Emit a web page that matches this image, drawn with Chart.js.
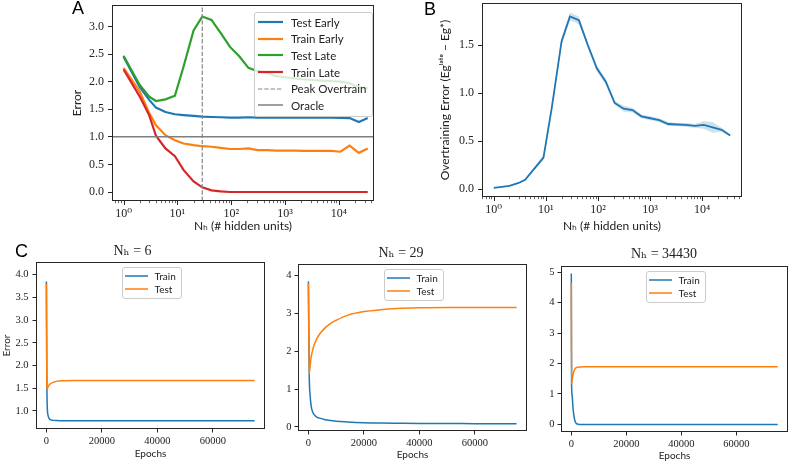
<!DOCTYPE html>
<html>
<head>
<meta charset="utf-8">
<script src="https://cdn.jsdelivr.net/npm/chart.js@4.4.0/dist/chart.umd.min.js"></script>
<style>
  html, body { margin: 0; padding: 0; background: #fff; }
  #fig { position: relative; width: 792px; height: 464px; overflow: hidden; }
  #fig canvas { position: absolute; }
  .panel-letter { position: absolute; font: 18px "Liberation Sans", Arial, sans-serif; line-height: 1; color: #000; }
  .legend { position: absolute; box-sizing: border-box; background: rgba(255,255,255,0.8);
            border: 1px solid #cccccc; border-radius: 3px; color: #222; font-family: Lato, "DejaVu Sans", sans-serif; }
  .legend .row { display: flex; align-items: center; white-space: nowrap; }
  .legend svg { flex: none; display: block; }
</style>
</head>
<body>
<div id="fig">
  <canvas id="panelA"></canvas>
  <canvas id="panelB"></canvas>
  <canvas id="panelC1"></canvas>
  <canvas id="panelC2"></canvas>
  <canvas id="panelC3"></canvas>
  <div class="panel-letter" style="left:72px; top:-1px;">A</div>
  <div class="panel-letter" style="left:424px; top:0px;">B</div>
  <div class="panel-letter" style="left:15px; top:242px;">C</div>
</div>
<script>
// ---- data: hidden-unit sweep (panels A and B) ----
const hiddenUnits = [1, 2, 3, 4, 6, 9, 13, 20, 29, 43, 64, 95, 141, 209, 310, 460, 681, 1010, 1497, 2219, 3289, 4875, 7225, 10708, 15870, 23520, 34430];
const testEarly  = [2.45, 1.90, 1.67, 1.53, 1.45, 1.41, 1.395, 1.38, 1.365, 1.36, 1.355, 1.35, 1.35, 1.355, 1.35, 1.35, 1.35, 1.35, 1.35, 1.35, 1.35, 1.35, 1.35, 1.345, 1.34, 1.27, 1.34];
const trainEarly = [2.25, 1.82, 1.43, 1.21, 1.03, 0.94, 0.88, 0.85, 0.83, 0.82, 0.80, 0.78, 0.78, 0.79, 0.76, 0.76, 0.75, 0.75, 0.75, 0.745, 0.745, 0.745, 0.745, 0.73, 0.84, 0.71, 0.79];
const testLate   = [2.47, 1.94, 1.73, 1.65, 1.68, 1.745, 2.27, 2.93, 3.18, 3.12, 2.88, 2.63, 2.46, 2.25, 2.19, 2.16, 2.10, 2.08, 2.06, 2.04, 2.03, 2.02, 2.01, 2.00, 1.97, 1.90, 1.88];
const trainLate  = [2.22, 1.73, 1.39, 1.02, 0.79, 0.65, 0.40, 0.19, 0.085, 0.03, 0.01, 0.0, 0.0, 0.0, 0.0, 0.0, 0.0, 0.0, 0.0, 0.0, 0.0, 0.0, 0.0, 0.0, 0.0, 0.0, 0.0];
const overtrainError = [0.014, 0.035, 0.066, 0.10, 0.216, 0.33, 0.85, 1.54, 1.80, 1.76, 1.50, 1.26, 1.12, 0.90, 0.84, 0.825, 0.76, 0.74, 0.72, 0.68, 0.675, 0.67, 0.66, 0.67, 0.645, 0.62, 0.56];
const overtrainLow   = [0.01, 0.03, 0.06, 0.09, 0.20, 0.30, 0.82, 1.50, 1.76, 1.72, 1.47, 1.23, 1.09, 0.88, 0.81, 0.80, 0.74, 0.72, 0.70, 0.66, 0.66, 0.65, 0.64, 0.63, 0.59, 0.60, 0.55];
const overtrainHigh  = [0.02, 0.04, 0.07, 0.11, 0.23, 0.36, 0.88, 1.58, 1.84, 1.80, 1.53, 1.29, 1.15, 0.92, 0.87, 0.85, 0.78, 0.76, 0.74, 0.70, 0.69, 0.69, 0.68, 0.71, 0.70, 0.64, 0.57];
const peakHidden = 29;
const oracleError = 1.0;

// ---- data: training curves (panel C) ----
const epochsC1 = [0, 150, 300, 600, 1000, 1500, 2500, 4000, 6000, 10000, 20000, 40000, 60000, 75000];
const trainC1  = [3.85, 1.70, 1.10, 0.90, 0.83, 0.80, 0.79, 0.785, 0.78, 0.78, 0.78, 0.78, 0.78, 0.78];
const testC1   = [3.80, 1.55, 1.48, 1.53, 1.57, 1.60, 1.63, 1.655, 1.665, 1.67, 1.67, 1.67, 1.67, 1.67];

const epochsC2 = [0, 300, 600, 1000, 1500, 2000, 3000, 4000, 6000, 8000, 10000, 14000, 20000, 26000, 32000, 40000, 50000, 60000, 75000];
const trainC2  = [3.85, 1.38, 0.85, 0.55, 0.40, 0.33, 0.26, 0.23, 0.19, 0.17, 0.15, 0.13, 0.11, 0.10, 0.095, 0.09, 0.09, 0.085, 0.085];
const testC2   = [3.80, 1.40, 1.60, 1.85, 2.02, 2.15, 2.33, 2.45, 2.62, 2.74, 2.82, 2.95, 3.05, 3.10, 3.13, 3.15, 3.16, 3.16, 3.16];

const epochsC3 = [0, 100, 300, 600, 1000, 1500, 2000, 3000, 5000, 10000, 20000, 40000, 75000];
const trainC3  = [4.95, 1.30, 0.95, 0.55, 0.25, 0.07, 0.02, 0.0, 0.0, 0.0, 0.0, 0.0, 0.0];
const testC3   = [4.65, 1.32, 1.45, 1.62, 1.76, 1.84, 1.87, 1.885, 1.89, 1.89, 1.89, 1.89, 1.89];

// ---- ticks and labels ----
const nhMajorTicks = [1, 10, 100, 1000, 10000];
const nhTickLabels = ['10\u2070', '10\u00B9', '10\u00B2', '10\u00B3', '10\u2074'];
const errorTicksA = [0, 0.5, 1.0, 1.5, 2.0, 2.5, 3.0];
const overtrainTicks = [0, 0.5, 1.0, 1.5];
const epochTicks = [0, 20000, 40000, 60000];
const errorTicksC1 = [1.0, 1.5, 2.0, 2.5, 3.0, 3.5, 4.0];
const errorTicksC2 = [0, 1, 2, 3, 4];
const errorTicksC3 = [0, 1, 2, 3, 4, 5];

const BLUE = '#1f77b4', ORANGE = '#ff7f0e', GREEN = '#2ca02c', RED = '#d62728', GRAY = '#7f7f7f';
const SPINE = '#262626';
const SERIF = '"Liberation Serif", "DejaVu Serif", serif';
const SANS = 'Lato, "DejaVu Sans", sans-serif';

Chart.defaults.font.family = SANS;
Chart.defaults.color = '#222';

const fig = document.getElementById('fig');

function series(xs, ys) {
  return xs.map((x, i) => ({ x: x, y: ys[i] }));
}

// all 1..9 x 10^k positions inside the axis range (minor + major ticks)
function logTickValues(min, max) {
  const vals = [];
  for (let d = Math.floor(Math.log10(min)); d <= Math.ceil(Math.log10(max)); d++) {
    for (let m = 1; m <= 9; m++) {
      const v = Number((m * Math.pow(10, d)).toPrecision(12));
      if (v >= min && v <= max) vals.push(v);
    }
  }
  return vals;
}

// frame around the plot + short minor tick marks on log axes
const axesDecor = {
  id: 'axesDecor',
  afterDatasetsDraw(chart) {
    const { ctx, chartArea: a } = chart;
    ctx.save();
    ctx.strokeStyle = SPINE;
    ctx.lineWidth = 1;
    ctx.strokeRect(Math.round(a.left) + 0.5, Math.round(a.top) + 0.5,
                   Math.round(a.right) - Math.round(a.left) - 1, Math.round(a.bottom) - Math.round(a.top) - 1);
    const s = chart.scales.x;
    if (s.type === 'logarithmic') {
      const y0 = Math.round(a.bottom);
      s.ticks.forEach(t => {
        const major = nhMajorTicks.includes(t.value);
        const x = Math.round(s.getPixelForValue(t.value)) + 0.5;
        ctx.lineWidth = major ? 1 : 0.7;
        ctx.beginPath();
        ctx.moveTo(x, y0);
        ctx.lineTo(x, y0 + (major ? 4 : 2.2));
        ctx.stroke();
      });
    }
    ctx.restore();
  }
};

function logAxis(min, max, title) {
  return {
    type: 'logarithmic', min: min, max: max, bounds: 'data',
    afterBuildTicks: s => { s.ticks = logTickValues(min, max).map(v => ({ value: v })); },
    ticks: {
      autoSkip: false, maxRotation: 0, padding: 2, color: '#222',
      font: { family: SERIF, size: 12 },
      callback: v => { const i = nhMajorTicks.indexOf(v); return i >= 0 ? nhTickLabels[i] : ''; }
    },
    grid: { display: false, drawTicks: true, tickLength: 4 },
    border: { display: false },
    title: { display: true, text: title, color: '#222', font: { family: SANS, size: 12 }, padding: { top: 0, bottom: 0 } }
  };
}

function linAxis(min, max, tickVals, fmt, opts) {
  const ax = {
    type: 'linear', min: min, max: max, bounds: 'data',
    afterBuildTicks: s => { s.ticks = tickVals.map(v => ({ value: v })); },
    ticks: {
      autoSkip: false, maxRotation: 0, padding: opts.pad, color: '#222',
      font: { family: SERIF, size: opts.size },
      callback: v => fmt(v)
    },
    grid: { display: true, drawOnChartArea: false, drawTicks: true, tickLength: opts.tick, tickColor: SPINE, tickWidth: 1 },
    border: { display: false },
    title: { display: false }
  };
  if (opts.title) {
    ax.title = { display: true, text: opts.title, color: '#222', font: { family: SANS, size: opts.titleSize },
                 padding: { top: opts.titlePad || 0, bottom: 0 } };
  }
  return ax;
}

function makePanel(id, g, cfg) {
  const canvas = document.getElementById(id);
  canvas.width = g.width;
  canvas.height = g.height;
  canvas.style.left = g.left + 'px';
  canvas.style.top = g.top + 'px';
  canvas.style.width = g.width + 'px';
  canvas.style.height = g.height + 'px';

  const yWidth = g.plot.l - g.left;
  const xHeight = g.top + g.height - g.plot.b;
  let titleOpt = { display: false };
  if (cfg.title) {
    const lh = cfg.title.size * 1.2;
    const padTop = cfg.title.center - g.top - lh / 2;
    titleOpt = {
      display: true, text: cfg.title.text, color: '#222',
      font: { family: SERIF, size: cfg.title.size, weight: 'normal', style: 'normal' },
      padding: { top: padTop, bottom: g.plot.t - g.top - padTop - lh }
    };
  }

  // fixed axis sizes, and no extra room for labels hanging past the plot edges
  const x = Object.assign({}, cfg.x, { afterFit: s => { s.height = xHeight; s.paddingLeft = 0; s.paddingRight = 0; } });
  const y = Object.assign({}, cfg.y, { afterFit: s => { s.width = yWidth; s.paddingTop = 0; s.paddingBottom = 0; } });

  return new Chart(canvas, {
    type: 'line',
    data: { datasets: cfg.datasets },
    options: {
      responsive: false,
      animation: false,
      devicePixelRatio: 1,
      layout: { padding: { left: 0, bottom: 0, top: cfg.title ? 0 : g.plot.t - g.top, right: g.left + g.width - g.plot.r } },
      elements: { point: { radius: 0 }, line: { tension: 0 } },
      plugins: { legend: { display: false }, tooltip: { enabled: false }, title: titleOpt },
      scales: { x: x, y: y }
    },
    plugins: [axesDecor]
  });
}

// legend box drawn as html from the chart's own datasets
function htmlLegend(chart, o) {
  const box = document.createElement('div');
  box.className = 'legend';
  box.style.fontSize = o.font + 'px';
  box.style.padding = o.padding;
  chart.data.datasets.filter(ds => ds.label).forEach(ds => {
    const row = document.createElement('div');
    row.className = 'row';
    row.style.height = o.rowHeight + 'px';
    const dash = ds.borderDash ? ds.borderDash.join(' ') : 'none';
    row.innerHTML =
      '<svg width="' + o.sample + '" height="6"><line x1="0" y1="3" x2="' + o.sample + '" y2="3" stroke="' + ds.borderColor +
      '" stroke-width="' + ds.borderWidth + '" stroke-dasharray="' + dash + '"/></svg>' +
      '<span style="margin-left:' + o.gap + 'px">' + ds.label + '</span>';
    box.appendChild(row);
  });
  fig.appendChild(box);
  const a = chart.chartArea;
  const cx = chart.canvas.offsetLeft, cy = chart.canvas.offsetTop;
  box.style.top = (cy + a.top + o.insetY) + 'px';
  if (o.anchor === 'upper right') {
    box.style.left = (cx + a.right - o.insetX - box.offsetWidth) + 'px';
  } else {
    box.style.left = (cx + (a.left + a.right) / 2 - box.offsetWidth / 2 + (o.shiftX || 0)) + 'px';
  }
}

// ---- panel A ----
const nhRangeA = [0.61, 45000];
const errRangeA = [-0.163, 3.39];
const chartA = makePanel('panelA',
  { left: 64, top: 0, width: 316, height: 233, plot: { l: 112, t: 5, r: 374, b: 201 } },
  {
    x: logAxis(nhRangeA[0], nhRangeA[1], 'N\u2095 (# hidden units)'),
    y: linAxis(errRangeA[0], errRangeA[1], errorTicksA, v => v.toFixed(1),
               { size: 12, pad: 4, tick: 4, title: 'Error', titleSize: 12, titlePad: 5.5 }),
    datasets: [
      { label: 'Test Early', data: series(hiddenUnits, testEarly), borderColor: BLUE, borderWidth: 2.2, order: 6 },
      { label: 'Train Early', data: series(hiddenUnits, trainEarly), borderColor: ORANGE, borderWidth: 2.2, order: 5 },
      { label: 'Test Late', data: series(hiddenUnits, testLate), borderColor: GREEN, borderWidth: 2.2, order: 4 },
      { label: 'Train Late', data: series(hiddenUnits, trainLate), borderColor: RED, borderWidth: 2.2, order: 3 },
      { label: 'Peak Overtrain', data: [{ x: peakHidden, y: errRangeA[0] }, { x: peakHidden, y: errRangeA[1] }],
        borderColor: '#888888', borderWidth: 1.2, borderDash: [4.4, 1.9], order: 2 },
      { label: 'Oracle', data: [{ x: nhRangeA[0], y: oracleError }, { x: nhRangeA[1], y: oracleError }],
        borderColor: GRAY, borderWidth: 1.5, order: 1 }
    ]
  });
htmlLegend(chartA, { anchor: 'upper right', insetX: 1, insetY: 7, font: 11.5, rowHeight: 16.6, sample: 25, gap: 8, padding: '1px 5px 2px 3px' });

// ---- panel B ----
const nhRangeB = [0.595, 58000];
const chartB = makePanel('panelB',
  { left: 432, top: 0, width: 318, height: 233, plot: { l: 482, t: 3, r: 742, b: 197 } },
  {
    x: logAxis(nhRangeB[0], nhRangeB[1], 'N\u2095 (# hidden units)'),
    y: linAxis(-0.08, 1.94, overtrainTicks, v => v.toFixed(1),
               { size: 12, pad: 4, tick: 4, title: 'Overtraining Error (Eg\u02E1\u1D43\u1D57\u1D49 \u2212 Eg*)', titleSize: 12, titlePad: 5.8 }),
    datasets: [
      { data: series(hiddenUnits, overtrainError), borderColor: BLUE, borderWidth: 1.8, order: 0 },
      { data: series(hiddenUnits, overtrainHigh), borderColor: 'transparent', borderWidth: 0,
        backgroundColor: 'rgba(31,119,180,0.22)', fill: '+1', order: 2 },
      { data: series(hiddenUnits, overtrainLow), borderColor: 'transparent', borderWidth: 0, fill: false, order: 3 }
    ]
  });

// ---- panel C ----
const epochRange = [-3750, 78750];
const fmtEpoch = v => String(v);
function curveSets(epochs, train, test) {
  return [
    { label: 'Train', data: series(epochs, train), borderColor: BLUE, borderWidth: 1.5, cubicInterpolationMode: 'monotone', order: 2 },
    { label: 'Test', data: series(epochs, test), borderColor: ORANGE, borderWidth: 1.5, cubicInterpolationMode: 'monotone', order: 1 }
  ];
}
function epochAxis() {
  return linAxis(epochRange[0], epochRange[1], epochTicks, fmtEpoch,
                 { size: 10.5, pad: 2, tick: 3.5, title: 'Epochs', titleSize: 10 });
}
const legendC = { anchor: 'upper center', insetY: 5, font: 10, rowHeight: 13.6, sample: 23, gap: 7, padding: '1px 5px 2px 2px', shiftX: 1 };

const chartC1 = makePanel('panelC1',
  { left: 0, top: 240, width: 270, height: 220, plot: { l: 36, t: 262, r: 265, b: 429 } },
  {
    title: { text: 'N\u2095 = 6', size: 14, center: 251 },
    x: epochAxis(),
    y: linAxis(0.6, 4.28, errorTicksC1, v => v.toFixed(1),
               { size: 10.5, pad: 4, tick: 3.5, title: 'Error', titleSize: 10, titlePad: 0.7 }),
    datasets: curveSets(epochsC1, trainC1, testC1)
  });
htmlLegend(chartC1, legendC);

const chartC2 = makePanel('panelC2',
  { left: 275, top: 242, width: 257, height: 219, plot: { l: 298, t: 264, r: 527, b: 431 } },
  {
    title: { text: 'N\u2095 = 29', size: 14, center: 253.3 },
    x: epochAxis(),
    y: linAxis(-0.11, 4.31, errorTicksC2, v => String(v), { size: 10.5, pad: 3, tick: 3.5 }),
    datasets: curveSets(epochsC2, trainC2, testC2)
  });
htmlLegend(chartC2, legendC);

const chartC3 = makePanel('panelC3',
  { left: 540, top: 243, width: 252, height: 219, plot: { l: 561, t: 266, r: 788, b: 432 } },
  {
    title: { text: 'N\u2095 = 34430', size: 14, center: 254.3 },
    x: epochAxis(),
    y: linAxis(-0.25, 5.2, errorTicksC3, v => String(v), { size: 10.5, pad: 3, tick: 3.5 }),
    datasets: curveSets(epochsC3, trainC3, testC3)
  });
htmlLegend(chartC3, legendC);
</script>
</body>
</html>
